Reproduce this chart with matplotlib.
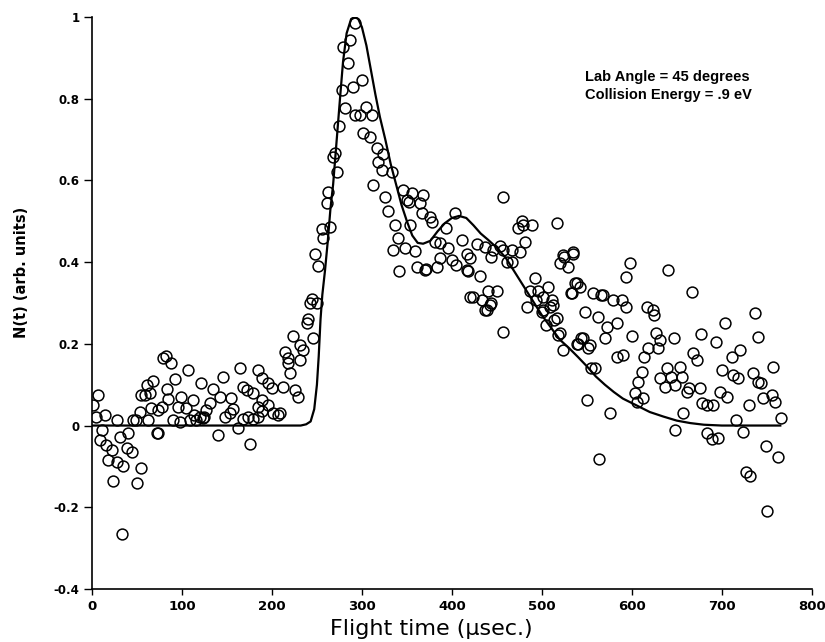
import numpy as np
import matplotlib
matplotlib.use("Agg")
import matplotlib.pyplot as plt

# measured time-of-flight points (t in usec, N(t) in arb. units)
t_data = [
    1, 7, 5, 14, 28, 11, 9, 16, 22, 31, 40, 39, 44, 18, 28, 35, 54, 23, 50, 33,
    49, 53, 62, 59, 64, 68, 66, 73, 78, 79, 82, 88, 83, 84, 73, 92, 107, 96, 99, 90,
    112, 105, 121, 134, 109, 116, 123, 127, 131, 140, 120, 113, 61, 46, 55, 72,
    98, 125, 148, 153, 157, 162, 168, 173, 179, 184, 189, 196, 201, 207,
    146, 164, 142, 155, 168, 172, 179, 184, 189, 196, 200, 189, 184, 209, 212, 220,
    218, 229, 226, 214, 218, 231, 234, 231, 223, 239, 240, 246, 242, 250, 176,
    244, 248, 251, 256, 257, 264, 261, 262, 268, 270, 272, 274, 278, 281, 279, 284,
    287, 290, 292, 300, 292, 298, 305, 311, 301, 309, 317, 323, 318, 322, 333, 312,
    326, 329, 337, 346, 356, 368, 350, 364, 367, 353, 340, 334, 348, 359, 361, 341,
    370, 352, 376, 378, 394, 403, 381, 396, 411, 387, 400, 405, 417, 420, 417, 384,
    371, 387, 420,
    428, 437, 446, 453, 457, 467, 476, 481, 444, 461, 467, 418, 431, 440, 450, 423,
    433, 442, 437, 457, 478, 479, 489, 473, 517, 492, 487, 496, 507, 483, 494, 501,
    511, 501, 509, 517, 505, 520, 523, 525, 535, 520, 529, 532, 539, 539, 457, 444,
    439, 512, 500, 514, 518,
    523, 535, 537, 542, 533, 548, 557, 566, 562, 572, 570, 579, 589, 584, 593, 598,
    594, 544, 540, 553, 555, 559, 550, 576, 563, 583, 590, 600, 617, 624, 625, 640,
    627, 631, 618, 629, 647, 614, 611, 607, 603, 612, 606, 639, 653, 631, 644, 656,
    637, 648, 661, 663, 676, 667, 677, 668, 672, 694, 703, 700, 711, 720, 712, 718,
    698, 706, 678, 683, 690, 657, 648, 683, 689, 696, 716, 723, 730, 737, 740, 735,
    740, 744, 757, 746, 756, 759, 766, 749, 762, 727, 731, 750, 551, 546, 568,
]
n_data = [
    0.05, 0.075, 0.02, 0.026, 0.014, -0.01, -0.035, -0.047, -0.06, -0.027, -0.018,
    -0.055, -0.064, -0.084, -0.09, -0.099, -0.104, -0.135, -0.14, -0.265,
    0.014, 0.033, 0.014, 0.075, 0.08, 0.11, 0.043, 0.038, 0.046, 0.165, 0.17, 0.153,
    0.09, 0.065, -0.018, 0.114, 0.136, 0.046, 0.07, 0.014,
    0.063, 0.043, 0.104, 0.09, 0.014, 0.014, 0.018, 0.038, 0.055, -0.023, 0.02,
    0.025, 0.099, 0.014, 0.075, -0.018,
    0.008, 0.02, 0.02, 0.03, 0.04, -0.006, 0.015, 0.02, 0.015, 0.02, 0.035, 0.05,
    0.03, 0.025,
    0.12, 0.14, 0.07, 0.067, 0.094, 0.087, 0.08, 0.136, 0.116, 0.104, 0.092, 0.063,
    0.046, 0.03, 0.094, 0.128, 0.153, 0.07, 0.087, 0.18, 0.165, 0.16, 0.185, 0.197,
    0.22, 0.25, 0.26, 0.215, 0.30, 0.30, -0.045,
    0.31, 0.42, 0.39, 0.48, 0.46, 0.487, 0.545, 0.572, 0.657, 0.666, 0.62, 0.733,
    0.82, 0.778, 0.927, 0.887, 0.944, 0.828, 0.985, 0.846, 0.76, 0.76, 0.78, 0.76,
    0.716, 0.706, 0.68, 0.664, 0.645, 0.625, 0.62, 0.589, 0.56, 0.525, 0.49, 0.576,
    0.569, 0.564, 0.552, 0.545, 0.52, 0.49, 0.46, 0.43, 0.434, 0.427, 0.388, 0.378,
    0.38, 0.547, 0.51, 0.497, 0.484, 0.52, 0.45, 0.435, 0.454, 0.41, 0.405, 0.393,
    0.38, 0.315, 0.42, 0.388, 0.383, 0.446, 0.41,
    0.444, 0.436, 0.43, 0.44, 0.43, 0.43, 0.425, 0.45, 0.412, 0.4, 0.4, 0.377, 0.365,
    0.33, 0.33, 0.315, 0.307, 0.295, 0.283, 0.23, 0.5, 0.49, 0.49, 0.483, 0.495,
    0.36, 0.33, 0.33, 0.34, 0.29, 0.307, 0.315, 0.307, 0.283, 0.29, 0.263, 0.245,
    0.226, 0.185, 0.412, 0.425, 0.398, 0.388, 0.325, 0.35, 0.2, 0.56, 0.30,
    0.283, 0.294, 0.277, 0.258, 0.222,
    0.417, 0.42, 0.35, 0.34, 0.325, 0.278, 0.325, 0.32, 0.265, 0.24, 0.214, 0.307,
    0.307, 0.25, 0.29, 0.398, 0.364, 0.214, 0.2, 0.197, 0.14, 0.14, 0.063, 0.03,
    -0.082, 0.168, 0.172, 0.22, 0.29, 0.283, 0.27, 0.38, 0.226, 0.21, 0.19, 0.19,
    0.214, 0.168, 0.13, 0.106, 0.08, 0.067, 0.058, 0.14, 0.143, 0.116, 0.12, 0.12,
    0.094, 0.099, 0.082, 0.092, 0.092, 0.326, 0.223, 0.178, 0.16, 0.204, 0.25,
    0.136, 0.168, 0.185, 0.123, 0.116, 0.082, 0.07, 0.055, 0.05, 0.05, 0.03, -0.01,
    -0.018, -0.033, -0.03, 0.014, -0.015, 0.05, 0.275, 0.217, 0.128, 0.106, 0.104,
    0.143, 0.067, 0.075, 0.058, 0.018, -0.05, -0.077, -0.113, -0.123, -0.21,
    0.19, 0.214, 0.32,
]

# fitted curve
t_fit = [0, 232, 238, 243, 247, 250, 252, 254, 256, 259, 262, 265, 268, 272, 276,
         279, 283, 288, 292, 296, 300, 305, 310, 315, 320, 326, 332, 338, 344, 350,
         356, 362, 368, 376, 384, 392, 400, 408, 416, 424, 432, 440, 450, 460, 470,
         480, 490, 500, 510, 520, 530, 540, 550, 560, 570, 580, 590, 600, 610, 620,
         635, 650, 665, 680, 700, 765]
n_fit = [0, 0, 0.003, 0.01, 0.04, 0.1, 0.17, 0.26, 0.32, 0.38, 0.45, 0.53, 0.59,
         0.7, 0.81, 0.89, 0.96, 0.995, 1.0, 0.995, 0.975, 0.93, 0.87, 0.81, 0.755,
         0.7, 0.64, 0.59, 0.54, 0.5, 0.465, 0.447, 0.445, 0.452, 0.475, 0.495,
         0.508, 0.513, 0.508, 0.49, 0.47, 0.455, 0.435, 0.41, 0.375, 0.34, 0.305,
         0.27, 0.24, 0.21, 0.19, 0.168, 0.145, 0.12, 0.1, 0.082, 0.066, 0.055,
         0.044, 0.033, 0.022, 0.012, 0.006, 0.002, 0.0, 0.0]

xticks = [0, 100, 200, 300, 400, 500, 600, 700, 800]
yticks = [-0.4, -0.2, 0, 0.2, 0.4, 0.6, 0.8, 1]
ytick_labels = ['-0.4', '-0.2', '0', '0.2', '0.4', '0.6', '0.8', '1']

plt.rcParams['font.family'] = ['DejaVu Sans']

fig = plt.figure(figsize=(8.25, 6.42), dpi=100)
ax = fig.add_axes([0.1115, 0.0826, 0.8725, 0.891])

ax.plot(t_data, n_data, 'o', ms=7.8, mfc='none', mec='black', mew=1.1, zorder=3)
ax.plot(t_fit, n_fit, '-', color='black', lw=1.6, zorder=2)

ax.set_xlim(0, 800)
ax.set_ylim(-0.4, 1.0)
ax.set_xticks(xticks)
ax.set_xticklabels([str(v) for v in xticks], fontweight='bold', fontsize=9.5)
ax.set_yticks(yticks)
ax.set_yticklabels(ytick_labels, fontweight='bold', fontsize=8.5)
ax.tick_params(axis='y', direction='out', length=6, width=1, pad=3)
ax.tick_params(axis='x', direction='out', length=4, width=1, pad=4)

for s in ['top', 'right']:
    ax.spines[s].set_visible(False)
for s in ['left', 'bottom']:
    ax.spines[s].set_linewidth(1.2)

ax.set_xlabel('Flight time (\u03bcsec.)', fontsize=16)
ax.xaxis.set_label_coords(0.471, -0.052)
ax.set_ylabel('N(t) (arb. units)', fontsize=10.5, fontweight='bold')
ax.yaxis.set_label_coords(-0.088, 0.554)

ax.text(548, 0.87, 'Lab Angle = 45 degrees\nCollision Energy = .9 eV',
        fontsize=10.5, fontweight='bold', va='top', ha='left', linespacing=1.35,
        family='Liberation Sans')

fig.savefig('out.png', dpi=100)
